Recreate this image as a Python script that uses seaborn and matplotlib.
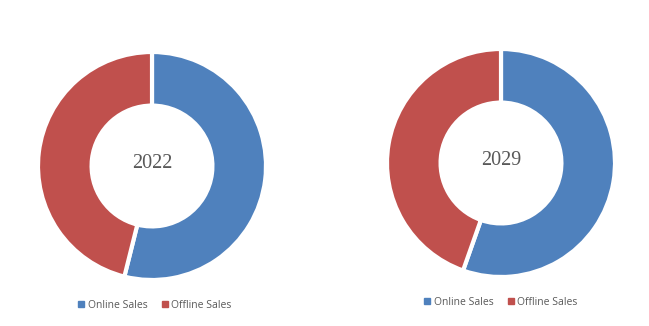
import matplotlib
matplotlib.use("Agg")
import matplotlib.pyplot as plt
import seaborn as sns
from matplotlib.lines import Line2D

sns.set_theme(style="white")

categories = ["Online Sales", "Offline Sales"]
years = ["2022", "2029"]
share_2022 = [53.9, 46.1]
share_2029 = [55.4, 44.6]
colors = ["#4F81BD", "#C0504D"]

W, H = 649, 326
fig = plt.figure(figsize=(W / 100, H / 100), dpi=100)
fig.patch.set_facecolor("white")

def add_donut(cx, cy, r, values, label, legend_x, legend_y):
    ax = fig.add_axes([(cx - r) / W, 1 - (cy + r) / H, 2 * r / W, 2 * r / H])
    ax.pie(values, colors=colors, startangle=90, counterclock=False, radius=1.0,
           wedgeprops=dict(width=0.47, edgecolor="white", linewidth=3))
    ax.set_xlim(-1.0, 1.0)
    ax.set_ylim(-1.0, 1.0)
    ax.set_aspect("equal")
    ax.axis("off")
    ax.text(0, 0.025, label, ha="center", va="center", fontsize=14.5,
            family="Liberation Serif", color="#595959")
    handles = [Line2D([0], [0], marker="s", linestyle="", markersize=4.5,
                      markerfacecolor=c, markeredgecolor=c) for c in colors]
    fig.legend(handles, categories, loc="center",
               bbox_to_anchor=(legend_x / W, 1 - legend_y / H),
               ncol=2, frameon=False, labelcolor="#595959",
               handletextpad=0.1, columnspacing=1.2, handlelength=1.0,
               prop=dict(family="Open Sans", size=7.5))

add_donut(152, 166, 114, share_2022, years[0], 154, 305.5)
add_donut(501, 163, 114, share_2029, years[1], 500, 302.5)

fig.savefig("out.png", dpi=100, facecolor="white")
